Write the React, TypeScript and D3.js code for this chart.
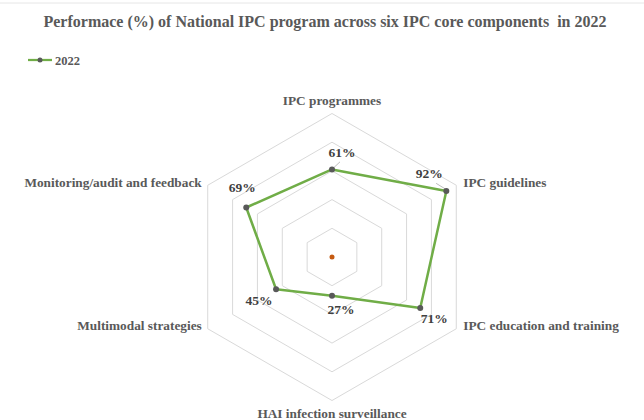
import React from 'react';
import * as d3 from 'd3';

const categories = [
  'IPC programmes',
  'IPC guidelines',
  'IPC education and training',
  'HAI infection surveillance',
  'Multimodal strategies',
  'Monitoring/audit and feedback',
];
const values2022 = [61, 92, 71, 27, 45, 69];
const gridLevels = [20, 40, 60, 80, 100];
const seriesName = '2022';

// label placement tweaks (dx, dy from the point), done by eye
const labelOffsets: [number, number][] = [
  [10, -17],
  [-17, -17],
  [14, 11],
  [9, 14],
  [-17, 11],
  [-4, -20],
];

const W = 644, H = 420;
const cx = 332, cy = 257;
const R = 143.5;
const font = "'Liberation Serif', 'Times New Roman', Tinos, 'DejaVu Serif', serif";

export default function App() {
  const r = d3.scaleLinear().domain([0, 100]).range([0, R]);
  const angle = d3.scaleLinear().domain([0, categories.length]).range([0, 2 * Math.PI]);

  const pt = (i: number, v: number): [number, number] => {
    const a = angle(i);
    return [cx + r(v) * Math.sin(a), cy - r(v) * Math.cos(a)];
  };

  const ring = (v: number) =>
    d3.line()(categories.map((_, i) => pt(i, v)).concat([pt(0, v)])) as string;

  const seriesPath = d3.line()(values2022.map((v, i) => pt(i, v)).concat([pt(0, values2022[0])])) as string;

  return (
    <svg width={W} height={H} style={{ position: 'absolute', left: 0, top: 0, background: '#fff', fontFamily: font }}>
      <line x1={0} x2={W} y1={3} y2={3} stroke="#e6e6e6" strokeWidth={1} />
      <text x={325} y={27} textAnchor="middle" style={{ fontFamily: font, whiteSpace: 'pre' }} fontWeight="bold" fontSize={16} fill="#595959">
        {'Performace (%) of National IPC program across six IPC core components  in 2022'}
      </text>

      {/* legend */}
      <g>
        <line x1={28} x2={52} y1={60} y2={60} stroke="#70AD47" strokeWidth={2.25} />
        <circle cx={40} cy={60} r={2.5} fill="#595959" />
        <text x={55} y={64.5} style={{ fontFamily: font }} fontWeight="bold" fontSize={12.5} fill="#595959">{seriesName}</text>
      </g>

      {/* grid */}
      {gridLevels.map((g) => (
        <path key={g} d={ring(g)} fill="none" stroke="#d9d9d9" strokeWidth={1} />
      ))}

      {/* category labels */}
      {categories.map((c, i) => {
        const [x, y] = pt(i, 100);
        const a = angle(i);
        const s = Math.sin(a);
        let anchor = 'middle';
        let tx = x, ty = y;
        if (Math.abs(s) < 0.01) {
          ty = Math.cos(a) > 0 ? y - 9 : y + 17;
        } else if (s > 0) {
          anchor = 'start';
          tx = x + 7;
          ty = y + 1.5;
        } else {
          anchor = 'end';
          tx = x - 6;
          ty = y + 1.5;
        }
        return (
          <text key={c} x={tx} y={ty} textAnchor={anchor} style={{ fontFamily: font }} fontWeight="bold" fontSize={13.3} fill="#595959">
            {c}
          </text>
        );
      })}

      {/* series */}
      <path d={seriesPath} fill="none" stroke="#70AD47" strokeWidth={2.5} strokeLinejoin="round" />
      <circle cx={cx} cy={cy} r={2.5} fill="#C55A11" />

      {/* leader lines for the top labels */}
      {[0, 1].map((i) => {
        const [x, y] = pt(i, values2022[i]);
        const [dx, dy] = labelOffsets[i];
        return (
          <line key={'ld' + i} x1={x + (i === 0 ? 2 : -1)} y1={y - 2} x2={x + dx * 0.6 + (i === 0 ? 2 : 0)} y2={y + dy * 0.45}
            stroke="#a6a6a6" strokeWidth={0.75} />
        );
      })}

      {values2022.map((v, i) => {
        const [x, y] = pt(i, v);
        return <circle key={'m' + i} cx={x} cy={y} r={3} fill="#595959" />;
      })}

      {values2022.map((v, i) => {
        const [x, y] = pt(i, v);
        const [dx, dy] = labelOffsets[i];
        return (
          <text key={'l' + i} x={x + dx} y={y + dy + 4.5} textAnchor="middle" style={{ fontFamily: font }} fontWeight="bold" fontSize={13.5} fill="#404040">
            {v}%
          </text>
        );
      })}
    </svg>
  );
}
